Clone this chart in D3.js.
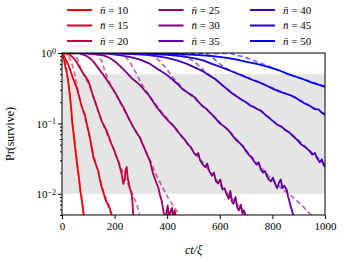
<!DOCTYPE html>
<html>
<head>
<meta charset="utf-8">
<script src="https://cdn.jsdelivr.net/npm/d3@7"></script>
<style>
  body { margin: 0; background: #fff; }
  svg text { font-family: "Liberation Serif", "DejaVu Serif", serif !important; fill: #000; }
  .axis path, .axis line { stroke: #000; }
</style>
</head>
<body>
<svg id="chart" width="344" height="262"></svg>
<script>
// mean particle numbers, one curve per value
const nbar = [10, 15, 20, 25, 30, 35, 40, 45, 50];
const xTicks = [0, 200, 400, 600, 800, 1000];
const yTicks = [1, 0.1, 0.01];
const bandRange = [0.01, 0.5];

// simulated survival curves, [ct/xi, Pr(survive)]
const sim10 = [[0,1],[4,0.9],[8,0.78],[12,0.66],[16,0.57],[20,0.48],[25,0.36],[30,0.25],[35,0.16],[39,0.1],[45,0.065],[50,0.045],[55,0.031],[60,0.022],[65,0.016],[70,0.011],[75,0.0085],[80,0.006],[84,0.0045]];
const sim15 = [[0,1],[6,0.93],[12,0.84],[18,0.76],[24,0.68],[32,0.56],[40,0.46],[48,0.38],[56,0.32],[64,0.25],[72,0.19],[80,0.155],[87,0.134],[94,0.1],[100,0.08],[106,0.063],[112,0.047],[119,0.033],[126,0.028],[132,0.024],[138,0.021],[144,0.016],[151,0.0123],[157,0.0105],[163,0.0089],[170,0.0075],[178,0.0068],[184,0.0058],[190,0.0049]];
const sim20 = [[0,1],[15,0.98],[30,0.945],[45,0.84],[58,0.72],[68,0.61],[80,0.52],[90,0.46],[100,0.4],[108,0.33],[116,0.26],[125,0.207],[133,0.17],[142,0.135],[151,0.108],[160,0.093],[170,0.078],[178,0.065],[186,0.053],[195,0.045],[204,0.036],[214,0.029],[220,0.024],[227,0.019],[233,0.0138],[238,0.016],[242,0.022],[246,0.024],[249,0.018],[252,0.0153],[258,0.012],[265,0.0098],[268,0.0075],[271,0.005],[273,0.0045]];
const sim25 = [[0,1],[40,0.995],[68,0.985],[90,0.92],[105,0.85],[119,0.76],[135,0.63],[150,0.53],[166,0.44],[182,0.356],[195,0.3],[208,0.25],[220,0.207],[233,0.17],[246,0.135],[259,0.108],[270,0.09],[280,0.078],[290,0.068],[297,0.063],[305,0.052],[314,0.044],[322,0.037],[328,0.033],[335,0.029],[341,0.023],[347,0.019],[353,0.0165],[360,0.014],[366,0.0123],[372,0.0098],[379,0.008],[384,0.0062],[388,0.005],[393,0.0043],[398,0.0058],[402,0.0068],[406,0.0045],[412,0.0056],[418,0.0063],[422,0.0045],[428,0.0058],[434,0.0046]];
const sim30 = [[0,1],[80,0.99],[130,0.96],[160,0.92],[182,0.85],[205,0.74],[225,0.63],[245,0.53],[265,0.44],[282,0.39],[297,0.35],[312,0.3],[328,0.257],[344,0.21],[360,0.17],[375,0.145],[390,0.125],[405,0.108],[420,0.095],[432,0.085],[445,0.073],[455,0.066],[468,0.058],[480,0.05],[490,0.046],[500,0.039],[510,0.035],[518,0.038],[525,0.03],[535,0.026],[545,0.024],[552,0.027],[560,0.021],[570,0.018],[578,0.02],[585,0.015],[594,0.014],[602,0.016],[610,0.0115],[618,0.012],[626,0.0098],[634,0.0085],[640,0.011],[646,0.0078],[652,0.0072],[660,0.009],[666,0.0064],[672,0.0058],[680,0.007],[686,0.0052],[692,0.0058],[700,0.0046]];
const sim35 = [[0,1],[100,0.995],[180,0.97],[230,0.92],[270,0.86],[300,0.8],[335,0.7],[368,0.58],[395,0.5],[420,0.42],[440,0.36],[461,0.3],[480,0.27],[495,0.25],[507,0.23],[520,0.2],[535,0.175],[550,0.16],[565,0.14],[578,0.125],[588,0.113],[600,0.1],[612,0.093],[625,0.085],[639,0.075],[650,0.066],[662,0.058],[675,0.053],[689,0.047],[700,0.04],[710,0.036],[720,0.033],[730,0.029],[740,0.026],[748,0.028],[756,0.022],[765,0.02],[772,0.021],[778,0.018],[786,0.016],[794,0.015],[802,0.017],[810,0.014],[818,0.012],[825,0.0145],[832,0.016],[838,0.012],[845,0.013],[854,0.0115],[860,0.009],[866,0.0075],[872,0.0062],[878,0.0052],[882,0.0045]];
const sim40 = [[0,1],[150,0.995],[250,0.975],[317,0.94],[360,0.9],[400,0.85],[440,0.78],[475,0.7],[506,0.62],[535,0.55],[560,0.48],[585,0.42],[605,0.36],[626,0.31],[645,0.27],[662,0.245],[680,0.22],[700,0.2],[715,0.18],[730,0.17],[745,0.158],[759,0.15],[775,0.13],[790,0.118],[805,0.105],[820,0.095],[835,0.09],[850,0.08],[867,0.073],[880,0.065],[895,0.058],[910,0.05],[925,0.046],[940,0.041],[952,0.036],[962,0.038],[970,0.032],[980,0.028],[988,0.031],[994,0.026],[1000,0.024]];
const sim45 = [[0,1],[200,0.995],[300,0.98],[400,0.94],[450,0.9],[506,0.84],[540,0.78],[570,0.7],[600,0.64],[632,0.575],[660,0.52],[690,0.47],[720,0.42],[745,0.39],[759,0.37],[780,0.34],[803,0.31],[825,0.285],[850,0.265],[870,0.25],[886,0.235],[905,0.21],[925,0.19],[945,0.175],[960,0.16],[975,0.158],[990,0.14],[1000,0.132]];
const sim50 = [[0,1],[200,0.998],[300,0.99],[400,0.975],[449,0.965],[506,0.94],[575,0.9],[620,0.86],[660,0.81],[702,0.75],[740,0.7],[780,0.64],[829,0.56],[860,0.5],[890,0.46],[920,0.42],[950,0.38],[975,0.355],[1000,0.33]];

// theory curves (dashed)
const fit10 = [[0,1],[3,0.99],[8,0.9],[14,0.72],[20,0.5],[26,0.34],[32,0.21],[40,0.11],[50,0.05],[60,0.023],[70,0.011],[80,0.0058],[85,0.0046]];
const fit15 = [[0,1],[15,0.99],[25,0.9],[35,0.75],[45,0.58],[56,0.36],[70,0.2],[87,0.12],[106,0.063],[120,0.036],[140,0.019],[157,0.011],[175,0.0068],[192,0.0047]];
const fit20 = [[0,1],[40,0.99],[50,0.93],[60,0.8],[70,0.62],[85,0.46],[100,0.37],[125,0.21],[150,0.11],[180,0.06],[210,0.032],[240,0.017],[270,0.0095],[285,0.007],[296,0.0048]];
const fit25 = [[0,1],[120,0.99],[135,0.94],[150,0.78],[160,0.6],[175,0.42],[200,0.28],[230,0.17],[260,0.105],[300,0.058],[330,0.033],[360,0.018],[385,0.0118],[405,0.0085],[430,0.0062],[450,0.0048]];
const fit30 = [[0,1],[220,0.99],[240,0.9],[260,0.72],[284,0.5],[305,0.35],[335,0.24],[370,0.16],[420,0.095],[470,0.055],[520,0.033],[570,0.019],[620,0.011],[660,0.0075],[700,0.0052],[710,0.0048]];
const fit35 = [[0,1],[330,0.99],[350,0.9],[373,0.76],[400,0.58],[423,0.44],[461,0.31],[520,0.2],[588,0.115],[640,0.075],[690,0.046],[740,0.028],[790,0.017],[840,0.0115],[870,0.0095],[910,0.007],[945,0.0051],[950,0.0048]];
const fit40 = [[0,1],[430,0.99],[470,0.9],[510,0.72],[540,0.56],[580,0.43],[626,0.31],[680,0.22],[750,0.155],[820,0.097],[870,0.072],[930,0.045],[1000,0.026]];
const fit45 = [[0,1],[540,0.99],[570,0.88],[600,0.7],[632,0.58],[700,0.46],[760,0.37],[830,0.285],[900,0.22],[1000,0.135]];
const fit50 = [[0,1],[640,0.99],[700,0.86],[753,0.72],[800,0.62],[860,0.5],[930,0.41],[1000,0.335]];

const simData = [sim10, sim15, sim20, sim25, sim30, sim35, sim40, sim45, sim50];
const fitData = [fit10, fit15, fit20, fit25, fit30, fit35, fit40, fit45, fit50];

const serif = "Liberation Serif, DejaVu Serif, serif";

let margin = {top: 53, right: 19, bottom: 47, left: 62};
let svgWidth = 344, svgHeight = 262;
let chartWidth = svgWidth - margin.left - margin.right;
let chartHeight = svgHeight - margin.top - margin.bottom;

let svg = d3.select("#chart");
let chartGroup = svg.append("g")
  .attr("transform", `translate(${margin.left}, ${margin.top})`);

let xLinearScale = d3.scaleLinear().domain([0, 1000]).range([0, chartWidth]);
let yLogScale = d3.scaleLog().domain([0.005, 1]).range([chartHeight, 0]);

// red -> blue as nbar grows
let colorScale = d3.scaleLinear()
  .domain([d3.min(nbar), d3.max(nbar)])
  .range(["#ff0000", "#0000ff"]);

chartGroup.append("clipPath").attr("id", "plotClip")
  .append("rect").attr("width", chartWidth).attr("height", chartHeight);

// grey band
chartGroup.append("rect")
  .attr("x", 0)
  .attr("width", chartWidth)
  .attr("y", yLogScale(bandRange[1]))
  .attr("height", yLogScale(bandRange[0]) - yLogScale(bandRange[1]))
  .attr("fill", "#e5e5e5");

let lineGen = d3.line()
  .x(d => xLinearScale(d[0]))
  .y(d => yLogScale(d[1]));

let lines = chartGroup.append("g").attr("clip-path", "url(#plotClip)");

nbar.forEach((n, i) => {
  lines.append("path")
    .attr("d", lineGen(simData[i]))
    .attr("fill", "none")
    .attr("stroke", colorScale(n))
    .attr("stroke-width", 1.8)
    .attr("stroke-linejoin", "round");
});
nbar.forEach((n, i) => {
  lines.append("path")
    .attr("d", lineGen(fitData[i]))
    .attr("fill", "none")
    .attr("stroke", colorScale(n))
    .attr("stroke-opacity", 0.55)
    .attr("stroke-width", 1.8)
    .attr("stroke-dasharray", "5,3");
});

// axes
let bottomAxis = d3.axisBottom(xLinearScale).tickValues(xTicks).tickSize(4).tickPadding(3).tickFormat(d3.format("d"));
let leftAxis = d3.axisLeft(yLogScale).tickValues(yTicks).tickSize(4).tickFormat("");
let minorTicks = [];
[0.001, 0.01, 0.1].forEach(dec => {
  for (let k = 2; k <= 9; k++) {
    let v = dec * k;
    if (v >= 0.005 && v < 1) minorTicks.push(v);
  }
});
let leftMinor = d3.axisLeft(yLogScale).tickValues(minorTicks).tickSize(2).tickFormat("");

chartGroup.append("g")
  .classed("axis", true)
  .attr("transform", `translate(0, ${chartHeight})`)
  .call(bottomAxis)
  .attr("font-family", serif)
  .attr("font-size", 11)
  .call(g => g.select(".domain").remove());

chartGroup.append("g").classed("axis", true).call(leftMinor)
  .call(g => g.select(".domain").remove());

let yAxisG = chartGroup.append("g").classed("axis", true).call(leftAxis)
  .attr("font-family", serif)
  .call(g => g.select(".domain").remove());

// 10^k labels
yAxisG.selectAll(".tick").append("text")
  .attr("x", -6)
  .attr("dy", "0.35em")
  .attr("text-anchor", "end")
  .attr("font-size", 11)
  .each(function(d) {
    let exp = Math.round(Math.log10(d));
    let t = d3.select(this);
    t.append("tspan").text("10");
    t.append("tspan").attr("dy", "-0.45em").attr("font-size", 8)
      .text(exp === 0 ? "0" : "\u2212" + Math.abs(exp));
  });

// frame
chartGroup.append("rect")
  .attr("width", chartWidth)
  .attr("height", chartHeight)
  .attr("fill", "none")
  .attr("stroke", "#000")
  .attr("stroke-width", 1);

// axis titles
svg.append("text")
  .attr("transform", `translate(${margin.left + chartWidth / 2}, ${svgHeight - 8})`)
  .attr("text-anchor", "middle")
  .attr("font-family", serif)
  .attr("font-size", 12)
  .attr("font-style", "italic")
  .text("ct/\u03be");

svg.append("text")
  .attr("transform", `translate(14, ${margin.top + chartHeight / 2}) rotate(-90)`)
  .attr("text-anchor", "middle")
  .attr("font-family", serif)
  .attr("font-size", 12)
  .text("Pr(survive)");

// legend, 3 columns
let legend = svg.append("g").attr("font-family", serif);
nbar.forEach((n, i) => {
  let col = Math.floor(i / 3), row = i % 3;
  let lx = 67 + col * 91.5, ly = 10 + row * 15.5;
  legend.append("line")
    .attr("x1", lx).attr("x2", lx + 25)
    .attr("y1", ly).attr("y2", ly)
    .attr("stroke", colorScale(n))
    .attr("stroke-width", 2);
  let t = legend.append("text")
    .attr("x", lx + 33).attr("y", ly)
    .attr("dy", "0.35em")
    .attr("font-size", 11);
  t.append("tspan").attr("font-style", "italic").text("n\u0304");
  t.append("tspan").text(" = " + n);
});
</script>
</body>
</html>
